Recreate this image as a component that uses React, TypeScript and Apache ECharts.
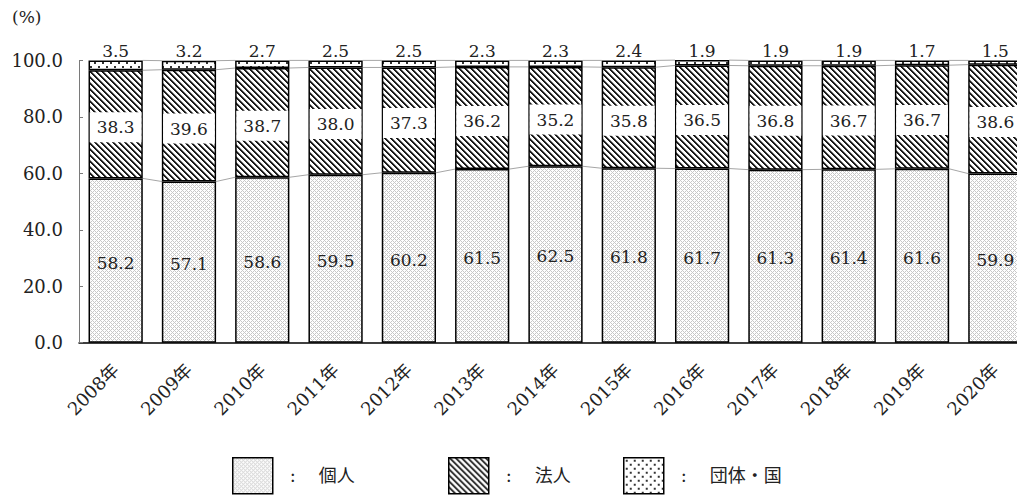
import React, { useEffect, useRef } from "react";
import * as echarts from "echarts";

const categories = ["2008年", "2009年", "2010年", "2011年", "2012年", "2013年", "2014年", "2015年", "2016年", "2017年", "2018年", "2019年", "2020年"];
const kojin = [58.2, 57.1, 58.6, 59.5, 60.2, 61.5, 62.5, 61.8, 61.7, 61.3, 61.4, 61.6, 59.9];
const hojin = [38.3, 39.6, 38.7, 38.0, 37.3, 36.2, 35.2, 35.8, 36.5, 36.8, 36.7, 36.7, 38.6];
const dantai = [3.5, 3.2, 2.7, 2.5, 2.5, 2.3, 2.3, 2.4, 1.9, 1.9, 1.9, 1.7, 1.5];
const seriesNames = ["個人", "法人", "団体・国"];
const yTicks = { min: 0, max: 100, interval: 20 };

const FONT = "'DejaVu Serif', 'Noto Sans CJK JP', serif";
const TEXT = "#222";

function makePattern(w: number, h: number, draw: (ctx: CanvasRenderingContext2D) => void) {
  const c = document.createElement("canvas");
  c.width = w;
  c.height = h;
  const ctx = c.getContext("2d") as CanvasRenderingContext2D;
  ctx.fillStyle = "#fff";
  ctx.fillRect(0, 0, w, h);
  draw(ctx);
  return { image: c, repeat: "repeat" as const };
}

export default function App() {
  const ref = useRef<HTMLDivElement>(null);
  useEffect(() => {
    if (!ref.current) return;
    const chart = echarts.init(ref.current, undefined, { renderer: "svg" });

    const crossPat = makePattern(4, 4, (ctx) => {
      ctx.fillStyle = "#c8c8c8";
      for (let y = 0; y < 4; y++)
        for (let x = 0; x < 4; x++)
          if ((x + y) % 4 === 0 || (x - y + 4) % 4 === 0) ctx.fillRect(x, y, 1, 1);
    });
    const diagPat = makePattern(6, 6, (ctx) => {
      for (let y = 0; y < 6; y++)
        for (let x = 0; x < 6; x++) {
          const d = (x - y + 6) % 6;
          if (d === 0 || d === 1) {
            ctx.fillStyle = "#1a1a1a";
            ctx.fillRect(x, y, 1, 1);
          } else if (d === 2) {
            ctx.fillStyle = "#8a8a8a";
            ctx.fillRect(x, y, 1, 1);
          }
        }
    });
    const dotPat = makePattern(8, 8, (ctx) => {
      ctx.fillStyle = "#333";
      ctx.fillRect(2, 2, 2, 2);
      ctx.fillRect(6, 6, 2, 2);
    });

    const cum1 = kojin.slice();
    const cum2 = kojin.map((v, i) => v + hojin[i]);
    const cum3 = cum2.map((v, i) => v + dantai[i]);
    const BAR_RATIO = 0.74;

    const connector = (cum: number[], name: string) => ({
      type: "custom",
      name,
      silent: true,
      z: 1,
      data: cum.slice(0, -1).map((v, i) => [i, v, cum[i + 1]]),
      encode: { x: 0, y: 1 },
      renderItem: (params: any, api: any) => {
        const i = api.value(0);
        const p0 = api.coord([i, api.value(1)]);
        const p1 = api.coord([i + 1, api.value(2)]);
        const bw = api.size([1, 0])[0] * BAR_RATIO;
        return {
          type: "line",
          shape: { x1: p0[0] + bw / 2, y1: p0[1], x2: p1[0] - bw / 2, y2: p1[1] },
          style: { stroke: "#a6a6a6", lineWidth: 1 },
        };
      },
    });

    const legendBase = {
      orient: "horizontal",
      top: 457,
      padding: 0,
      itemWidth: 40,
      itemHeight: 36,
      itemGap: 10,
      icon: "rect",
      selectedMode: false,
      itemStyle: { borderColor: "#000", borderWidth: 1.5 },
      textStyle: { fontFamily: FONT, fontSize: 18, color: TEXT, padding: [0, 0, 0, 12] },
      formatter: (n: string) => ":    " + n,
    };

    const fmt = (p: any) => Number(p.value).toFixed(1);

    chart.setOption({
      animation: false,
      backgroundColor: "#fff",
      textStyle: { fontFamily: FONT },
      grid: { left: 79, top: 60.4, width: 953, height: 282.3, containLabel: false, outerBoundsMode: "none" },
      graphic: [
        { type: "text", left: 12, top: 8, style: { text: "(%)", fontFamily: FONT, fontSize: 17, fill: TEXT } },
      ],
      legend: [
        { ...legendBase, left: 232, data: [seriesNames[0]] },
        { ...legendBase, left: 448, data: [seriesNames[1]] },
        { ...legendBase, left: 623, data: [seriesNames[2]] },
      ],
      xAxis: {
        type: "category",
        data: categories,
        axisLine: { show: true, lineStyle: { color: "#000", width: 1.5 } },
        axisTick: { show: false },
        axisLabel: { rotate: 45, fontFamily: FONT, fontSize: 18, color: TEXT, margin: 24, interval: 0 },
      },
      yAxis: {
        type: "value",
        min: yTicks.min,
        max: yTicks.max,
        interval: yTicks.interval,
        splitLine: { show: false },
        axisLine: { show: true, lineStyle: { color: "#7a7a7a", width: 1 } },
        axisTick: { show: true, inside: true, length: 4, lineStyle: { color: "#7a7a7a" } },
        axisLabel: {
          fontFamily: FONT,
          fontSize: 18,
          color: TEXT,
          margin: 16,
          formatter: (v: number) => v.toFixed(1),
        },
      },
      series: [
        {
          type: "bar",
          name: seriesNames[0],
          stack: "total",
          barWidth: "74%",
          z: 2,
          data: kojin,
          itemStyle: { color: crossPat, borderColor: "#000", borderWidth: 1.5 },
          label: { show: true, position: "inside", offset: [0, 2], fontFamily: FONT, fontSize: 17, color: TEXT, formatter: fmt },
        },
        {
          type: "bar",
          name: seriesNames[1],
          stack: "total",
          z: 2,
          data: hojin,
          itemStyle: { color: diagPat, borderColor: "#000", borderWidth: 1.5 },
          label: {
            show: true,
            position: "inside",
            offset: [0, 3],
            fontFamily: FONT,
            fontSize: 17,
            color: TEXT,
            backgroundColor: "#fff",
            padding: [7, 7, 6, 7],
            formatter: fmt,
          },
        },
        {
          type: "bar",
          name: seriesNames[2],
          stack: "total",
          z: 2,
          data: dantai,
          itemStyle: { color: dotPat, borderColor: "#000", borderWidth: 1.5 },
          label: { show: true, position: "top", distance: 1, fontFamily: FONT, fontSize: 17, color: TEXT, formatter: fmt },
        },
        connector(cum1, "line1"),
        connector(cum2, "line2"),
        connector(cum3, "line3"),
      ],
    } as any);
    return () => chart.dispose();
  }, []);
  return <div ref={ref} style={{ position: "absolute", left: 0, top: 0, width: 1017, height: 495 }} />;
}
